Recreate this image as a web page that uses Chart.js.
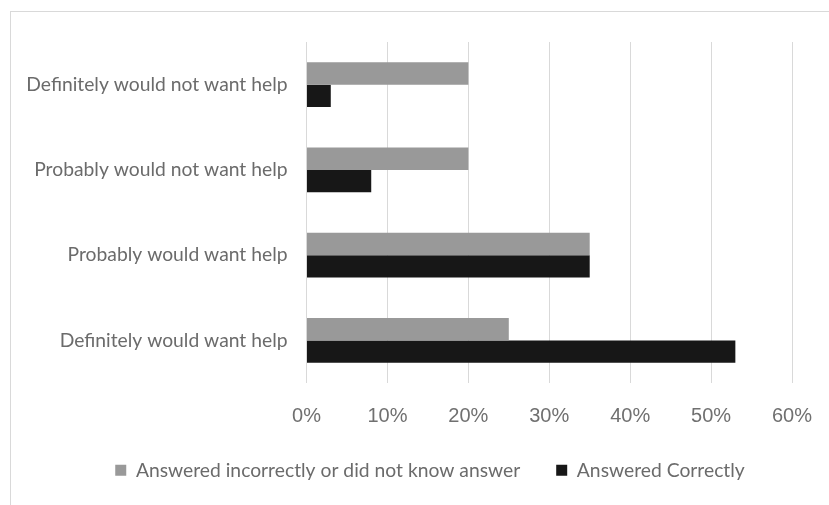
<!DOCTYPE html>
<html>
<head>
<meta charset="utf-8">
<script src="https://cdn.jsdelivr.net/npm/chart.js@4.4.0/dist/chart.umd.min.js"></script>
<style>
  html, body { margin: 0; padding: 0; background: #ffffff; overflow: hidden; }
  #frame { position: absolute; left: 10px; top: 11px; width: 900px; height: 600px;
           border-left: 1px solid #d9d9d9; border-top: 1px solid #d9d9d9; }
  #wrap { position: absolute; left: 0; top: 0; width: 829px; height: 505px; }
</style>
</head>
<body>
<div id="frame"></div>
<div id="wrap"><canvas id="c" width="829" height="505"></canvas></div>
<script>
const categories = [
  'Definitely would not want help',
  'Probably would not want help',
  'Probably would want help',
  'Definitely would want help'
];
const seriesNames = ['Answered incorrectly or did not know answer', 'Answered Correctly'];
const incorrectValues = [20, 20, 35, 25];
const correctValues = [3, 8, 35, 53];
const tickLabels = ['0%', '10%', '20%', '30%', '40%', '50%', '60%'];

const labelFont = { family: 'Lato', size: 19.3 };
const textColor = '#6b6b6b';

new Chart(document.getElementById('c'), {
  type: 'bar',
  data: {
    labels: categories,
    datasets: [
      { label: seriesNames[0], data: incorrectValues, backgroundColor: '#999999', borderWidth: 0 },
      { label: seriesNames[1], data: correctValues, backgroundColor: '#171717', borderWidth: 0 }
    ]
  },
  options: {
    indexAxis: 'y',
    responsive: false,
    animation: false,
    devicePixelRatio: 1,
    categoryPercentage: 0.527,
    barPercentage: 1.0,
    layout: { padding: { left: 18, right: -13, top: 42, bottom: 15 } },
    scales: {
      x: {
        min: 0, max: 60,
        ticks: {
          stepSize: 10,
          padding: 21,
          color: '#707070',
          font: { family: 'Liberation Sans', size: 20 },
          callback: (v, i) => tickLabels[i]
        },
        grid: { color: '#d9d9d9', lineWidth: 1, drawTicks: false },
        border: { display: false },
        afterFit: (s) => { s.height = 41.7; s.paddingRight = 37; }
      },
      y: {
        ticks: { padding: 19, color: textColor, font: labelFont },
        grid: { display: false, drawTicks: false },
        border: { display: false },
        afterFit: (s) => { s.width = 288.5; }
      }
    },
    plugins: {
      legend: {
        position: 'bottom',
        labels: {
          boxWidth: 11, boxHeight: 11, padding: 36,
          color: textColor, font: labelFont
        }
      },
      tooltip: { enabled: false }
    }
  }
});
</script>
</body>
</html>
